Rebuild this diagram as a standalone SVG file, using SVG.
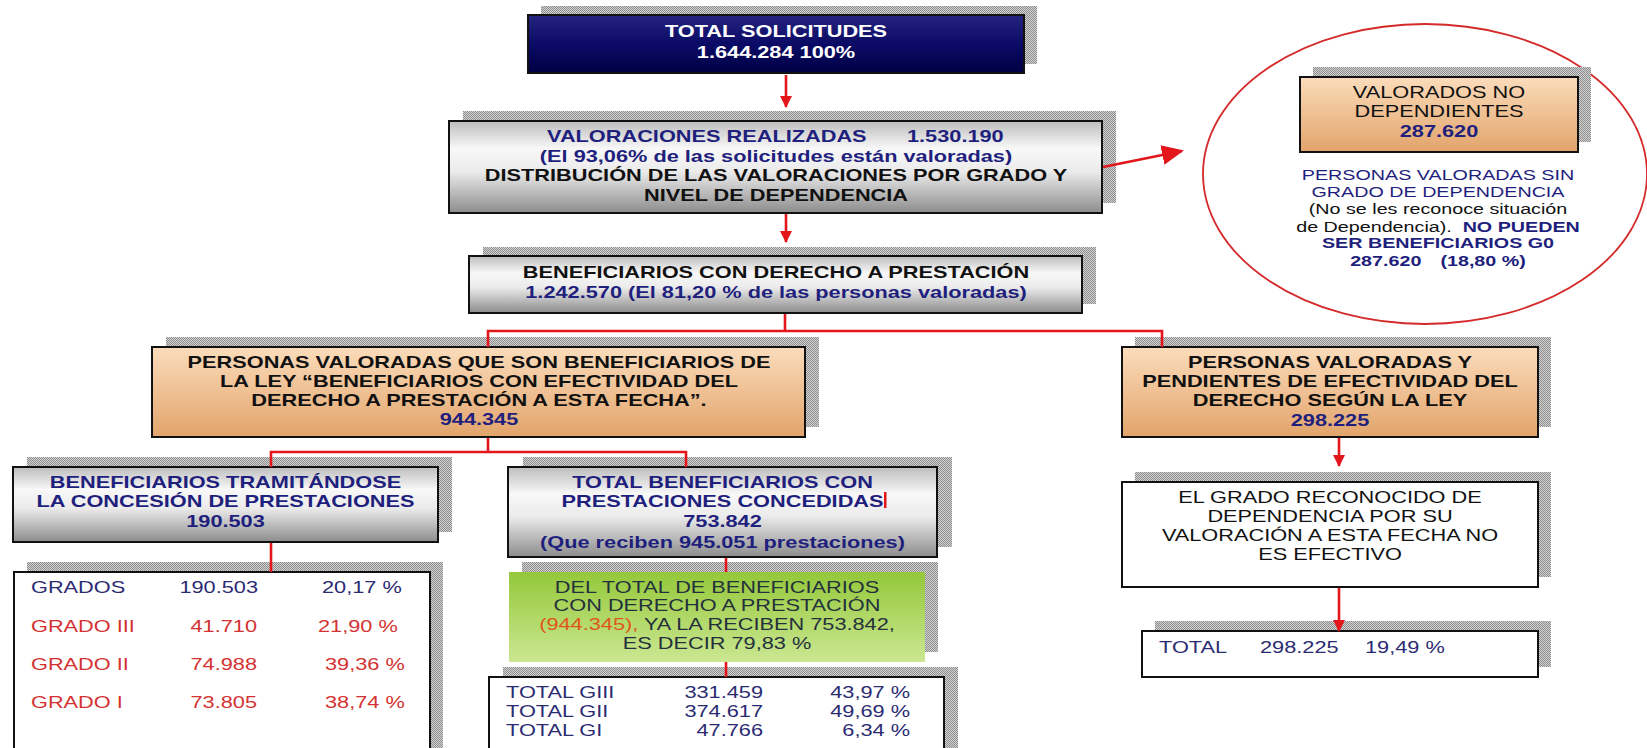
<svg xmlns="http://www.w3.org/2000/svg" width="1647" height="748" viewBox="0 0 1647 748">
<style>
text{font-family:"Liberation Sans",Arial,Helvetica,sans-serif}
.b{font-weight:700;font-size:16px}
.r{font-weight:400;font-size:16px}
.s{font-size:14.5px}
.c{text-anchor:middle}
.e{text-anchor:end}
.nv{fill:#1f1f7d}
.bk{fill:#111}
.wh{fill:#fff}
.rd{fill:#d43232}
.tn{fill:#2b2b72}
.gt{fill:#24303c}
.sh{fill:url(#hatch)}
.box{stroke:#111;stroke-width:2}
.conn{fill:none;stroke:#e3161c;stroke-width:2.6}
</style>
<defs>
<pattern id="hatch" width="2" height="2" patternUnits="userSpaceOnUse"><rect width="2" height="2" fill="#d2d2d2"/><rect width="1" height="1" fill="#8e8e8e"/><rect x="1" y="1" width="1" height="1" fill="#8e8e8e"/></pattern>
<linearGradient id="navy" x1="0" y1="0" x2="0" y2="1"><stop offset="0" stop-color="#25257f"/><stop offset="0.5" stop-color="#0b0b66"/><stop offset="1" stop-color="#000044"/></linearGradient>
<linearGradient id="gray" x1="0" y1="0" x2="0" y2="1"><stop offset="0" stop-color="#bdbdbd"/><stop offset="0.3" stop-color="#f8f8f8"/><stop offset="0.55" stop-color="#ebebeb"/><stop offset="1" stop-color="#8c8c8c"/></linearGradient>
<linearGradient id="orange" x1="0" y1="0" x2="0" y2="1"><stop offset="0" stop-color="#fbdcbb"/><stop offset="1" stop-color="#e2a46b"/></linearGradient>
<linearGradient id="green" x1="0" y1="0" x2="0" y2="1"><stop offset="0" stop-color="#94c83a"/><stop offset="1" stop-color="#cbe792"/></linearGradient>
<marker id="ah" markerUnits="userSpaceOnUse" markerWidth="12" markerHeight="12" refX="11" refY="6" orient="auto"><path d="M0,0 L12,6 L0,12 z" fill="#e3161c"/></marker>
<marker id="ahBig" markerUnits="userSpaceOnUse" markerWidth="22" markerHeight="20" refX="20" refY="10" orient="auto"><path d="M0,0 L22,10 L0,20 z" fill="#e3161c"/></marker>
</defs>
<rect width="1647" height="748" fill="#fff"/>

<g id="total-solicitudes">
<rect class="sh" x="541" y="6" width="496" height="58"/>
<rect class="box" x="528" y="15" width="496" height="58" fill="url(#navy)"/>
<text class="b c wh" transform="translate(776,37) scale(1.36,1)">TOTAL SOLICITUDES</text>
<text class="b c wh" transform="translate(776,58) scale(1.36,1)">1.644.284 100%</text>
</g>

<g id="valoraciones">
<rect class="sh" x="463" y="111" width="653" height="92"/>
<rect class="box" x="449" y="121" width="653" height="92" fill="url(#gray)"/>
<text class="b nv" transform="translate(547,142) scale(1.36,1)"><tspan x="0">VALORACIONES REALIZADAS</tspan><tspan x="264.7">1.530.190</tspan></text>
<text class="b c nv" transform="translate(776,162) scale(1.36,1)">(El 93,06% de las solicitudes están valoradas)</text>
<text class="b c bk" transform="translate(776,181) scale(1.36,1)">DISTRIBUCIÓN DE LAS VALORACIONES POR GRADO Y</text>
<text class="b c bk" transform="translate(776,201) scale(1.36,1)">NIVEL DE DEPENDENCIA</text>
</g>

<g id="beneficiarios-derecho">
<rect class="sh" x="483" y="247" width="613" height="57"/>
<rect class="box" x="469" y="256" width="613" height="57" fill="url(#gray)"/>
<text class="b c bk" transform="translate(776,278) scale(1.36,1)">BENEFICIARIOS CON DERECHO A PRESTACIÓN</text>
<text class="b c nv" transform="translate(776,298) scale(1.36,1)">1.242.570 (El 81,20 % de las personas valoradas)</text>
</g>

<g id="beneficiarios-efectividad">
<rect class="sh" x="166" y="337" width="653" height="90"/>
<rect class="box" x="152" y="347" width="653" height="90" fill="url(#orange)"/>
<text class="b c bk" transform="translate(479,368) scale(1.36,1)">PERSONAS VALORADAS QUE SON BENEFICIARIOS DE</text>
<text class="b c bk" transform="translate(479,387) scale(1.36,1)">LA LEY “BENEFICIARIOS CON EFECTIVIDAD DEL</text>
<text class="b c bk" transform="translate(479,406) scale(1.36,1)">DERECHO A PRESTACIÓN A ESTA FECHA”.</text>
<text class="b c nv" transform="translate(479,425) scale(1.36,1)">944.345</text>
</g>

<g id="tramitandose">
<rect class="sh" x="27" y="457" width="425" height="75"/>
<rect class="box" x="13" y="467" width="425" height="75" fill="url(#gray)"/>
<text class="b c nv" transform="translate(225.5,488) scale(1.36,1)">BENEFICIARIOS TRAMITÁNDOSE</text>
<text class="b c nv" transform="translate(225.5,507) scale(1.36,1)">LA CONCESIÓN DE PRESTACIONES</text>
<text class="b c nv" transform="translate(225.5,527) scale(1.36,1)">190.503</text>
</g>

<g id="tabla-grados">
<rect class="sh" x="27" y="562" width="416" height="200"/>
<rect class="box" x="14" y="572" width="416" height="200" fill="#fff"/>
<text class="r tn" transform="translate(31,593) scale(1.36,1)">GRADOS</text>
<text class="r tn e" transform="translate(258,593) scale(1.36,1)">190.503</text>
<text class="r tn" transform="translate(322,593) scale(1.36,1)">20,17 %</text>
<text class="r rd" transform="translate(31,632) scale(1.36,1)">GRADO III</text>
<text class="r rd e" transform="translate(257,632) scale(1.36,1)">41.710</text>
<text class="r rd" transform="translate(318,632) scale(1.36,1)">21,90 %</text>
<text class="r rd" transform="translate(31,670) scale(1.36,1)">GRADO II</text>
<text class="r rd e" transform="translate(257,670) scale(1.36,1)">74.988</text>
<text class="r rd" transform="translate(325,670) scale(1.36,1)">39,36 %</text>
<text class="r rd" transform="translate(31,708) scale(1.36,1)">GRADO I</text>
<text class="r rd e" transform="translate(257,708) scale(1.36,1)">73.805</text>
<text class="r rd" transform="translate(325,708) scale(1.36,1)">38,74 %</text>
</g>

<g id="prestaciones-concedidas">
<rect class="sh" x="523" y="457" width="429" height="90"/>
<rect class="box" x="508" y="467" width="429" height="90" fill="url(#gray)"/>
<text class="b c nv" transform="translate(722.5,488) scale(1.36,1)">TOTAL BENEFICIARIOS CON</text>
<text class="b c nv" transform="translate(722.5,507) scale(1.36,1)">PRESTACIONES CONCEDIDAS</text>
<rect x="884" y="492" width="2.5" height="16" fill="#e3161c"/>
<text class="b c nv" transform="translate(722.5,527) scale(1.36,1)">753.842</text>
<text class="b c nv" transform="translate(722.5,548) scale(1.36,1)">(Que reciben 945.051 prestaciones)</text>
</g>

<g id="del-total">
<rect class="sh" x="522" y="562" width="416" height="90"/>
<rect x="509" y="572" width="416" height="90" fill="url(#green)"/>
<text class="r c gt" transform="translate(717,593) scale(1.36,1)">DEL TOTAL DE BENEFICIARIOS</text>
<text class="r c gt" transform="translate(717,611) scale(1.36,1)">CON DERECHO A PRESTACIÓN</text>
<text class="r c gt" transform="translate(717,630) scale(1.36,1)"><tspan fill="#e0561a">(944.345),</tspan> YA LA RECIBEN 753.842,</text>
<text class="r c gt" transform="translate(717,649) scale(1.36,1)">ES DECIR 79,83 %</text>
</g>

<g id="tabla-totales">
<rect class="sh" x="503" y="667" width="455" height="100"/>
<rect class="box" x="489" y="677" width="455" height="100" fill="#fff"/>
<text class="r tn" transform="translate(506,698) scale(1.36,1)">TOTAL GIII</text>
<text class="r tn e" transform="translate(763,698) scale(1.36,1)">331.459</text>
<text class="r tn e" transform="translate(910,698) scale(1.36,1)">43,97 %</text>
<text class="r tn" transform="translate(506,717) scale(1.36,1)">TOTAL GII</text>
<text class="r tn e" transform="translate(763,717) scale(1.36,1)">374.617</text>
<text class="r tn e" transform="translate(910,717) scale(1.36,1)">49,69 %</text>
<text class="r tn" transform="translate(506,736) scale(1.36,1)">TOTAL GI</text>
<text class="r tn e" transform="translate(763,736) scale(1.36,1)">47.766</text>
<text class="r tn e" transform="translate(910,736) scale(1.36,1)">6,34 %</text>
</g>

<g id="pendientes">
<rect class="sh" x="1135" y="337" width="416" height="90"/>
<rect class="box" x="1122" y="347" width="416" height="90" fill="url(#orange)"/>
<text class="b c bk" transform="translate(1330,368) scale(1.36,1)">PERSONAS VALORADAS Y</text>
<text class="b c bk" transform="translate(1330,387) scale(1.36,1)">PENDIENTES DE EFECTIVIDAD DEL</text>
<text class="b c bk" transform="translate(1330,406) scale(1.36,1)">DERECHO SEGÚN LA LEY</text>
<text class="b c nv" transform="translate(1330,426) scale(1.36,1)">298.225</text>
</g>

<g id="grado-no-efectivo">
<rect class="sh" x="1135" y="472" width="416" height="105"/>
<rect class="box" x="1122" y="482" width="416" height="105" fill="#fff"/>
<text class="r c bk" transform="translate(1330,503) scale(1.36,1)">EL GRADO RECONOCIDO DE</text>
<text class="r c bk" transform="translate(1330,522) scale(1.36,1)">DEPENDENCIA POR SU</text>
<text class="r c bk" transform="translate(1330,541) scale(1.36,1)">VALORACIÓN A ESTA FECHA NO</text>
<text class="r c bk" transform="translate(1330,560) scale(1.36,1)">ES EFECTIVO</text>
</g>

<g id="total-pendientes">
<rect class="sh" x="1155" y="621" width="396" height="46"/>
<rect class="box" x="1142" y="631" width="396" height="46" fill="#fff"/>
<text class="r tn" transform="translate(1159,653) scale(1.36,1)">TOTAL</text>
<text class="r tn" transform="translate(1260,653) scale(1.36,1)">298.225</text>
<text class="r tn" transform="translate(1365,653) scale(1.36,1)">19,49 %</text>
</g>

<g id="no-dependientes">
<ellipse cx="1425" cy="174" rx="222" ry="150" fill="none" stroke="#d42a2a" stroke-width="1.8"/>
<rect class="sh" x="1313" y="67" width="278" height="75"/>
<rect class="box" x="1300" y="77" width="278" height="75" fill="url(#orange)"/>
<text class="r c bk" transform="translate(1439,98) scale(1.36,1)">VALORADOS NO</text>
<text class="r c bk" transform="translate(1439,117) scale(1.36,1)">DEPENDIENTES</text>
<text class="b c nv" transform="translate(1439,137) scale(1.36,1)">287.620</text>
<text class="r s c nv" transform="translate(1438,180) scale(1.36,1)">PERSONAS VALORADAS SIN</text>
<text class="r s c nv" transform="translate(1438,197) scale(1.36,1)">GRADO DE DEPENDENCIA</text>
<text class="r s c bk" transform="translate(1438,214) scale(1.36,1)">(No se les reconoce situación</text>
<text class="r s c bk" transform="translate(1438,232) scale(1.36,1)">de Dependencia).<tspan class="b s nv" dx="8">NO PUEDEN</tspan></text>
<text class="b s c nv" transform="translate(1438,248) scale(1.36,1)">SER BENEFICIARIOS G0</text>
<text class="b s c nv" transform="translate(1438,266) scale(1.36,1)">287.620<tspan dx="14">(18,80 %)</tspan></text>
</g>

<g id="connectors">
<line class="conn" x1="786" y1="75" x2="786" y2="107" marker-end="url(#ah)" stroke-width="3"/>
<line class="conn" x1="786" y1="214" x2="786" y2="242" marker-end="url(#ah)" stroke-width="3"/>
<line class="conn" x1="1103" y1="167" x2="1182" y2="151" marker-end="url(#ahBig)" stroke-width="4.5"/>
<polyline class="conn" points="785,314 785,331"/>
<polyline class="conn" points="488,347 488,331 1162,331 1162,347"/>
<polyline class="conn" points="488,438 488,452"/>
<polyline class="conn" points="271,467 271,452 686,452 686,467"/>
<polyline class="conn" points="271,543 271,572"/>
<polyline class="conn" points="726,558 726,572"/>
<polyline class="conn" points="726,662 726,677"/>
<line class="conn" x1="1339" y1="438" x2="1339" y2="466" marker-end="url(#ah)" stroke-width="3"/>
<line class="conn" x1="1339" y1="588" x2="1339" y2="631" marker-end="url(#ah)" stroke-width="3"/>
</g>
</svg>
